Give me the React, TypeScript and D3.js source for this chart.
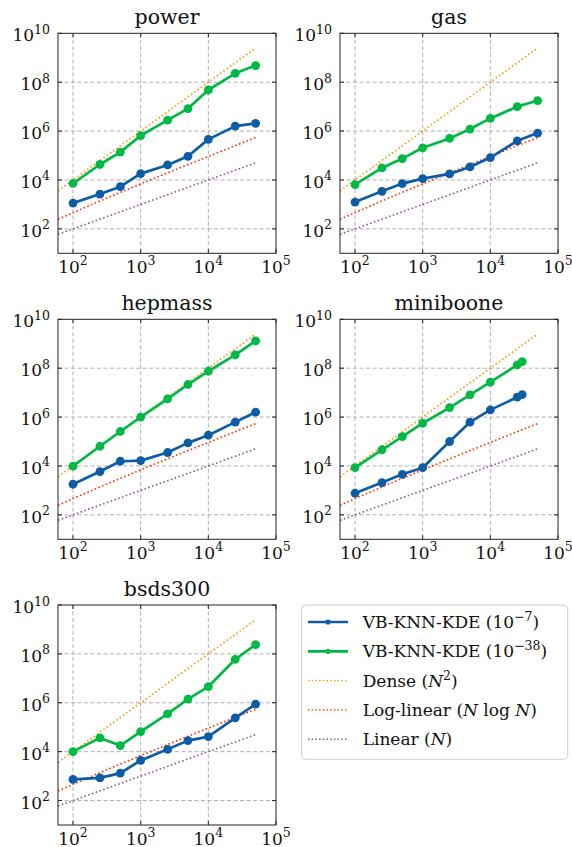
import React from "react";
import * as d3 from "d3";

// dataset sizes used for the timing runs
const sizes = [100, 250, 500, 1000, 2500, 5000, 10000, 25000, 50000];
const sizesMiniboone = [100, 250, 500, 1000, 2500, 5000, 10000, 25000, 29556];

// reference curve sample points
const refN = [60, 100, 250, 500, 1000, 2500, 5000, 10000, 25000, 50000];

const xTicks = [1e2, 1e3, 1e4, 1e5];
const yTicks = [1e2, 1e4, 1e6, 1e8, 1e10];

// VB-KNN-KDE (1e-7) = blue, VB-KNN-KDE (1e-38) = green
const powerBlue = [1130, 2660, 5300, 18200, 41300, 93000, 457000, 1.6e6, 2.07e6];
const powerGreen = [7300, 43000, 138000, 650000, 2.8e6, 8.3e6, 4.8e7, 2.3e8, 4.8e8];

const gasBlue = [1250, 3420, 7100, 11400, 17700, 34200, 82800, 4.0e5, 8.3e5];
const gasGreen = [6450, 31000, 75000, 2.07e5, 5.0e5, 1.21e6, 3.3e6, 1.0e7, 1.77e7];

const hepmassBlue = [1790, 5900, 15600, 16600, 35500, 88000, 1.81e5, 6.2e5, 1.58e6];
const hepmassGreen = [9800, 64000, 2.57e5, 1.0e6, 5.6e6, 2.15e7, 7.5e7, 3.5e8, 1.32e9];

const minibooneBlue = [766, 2090, 4570, 8500, 1.0e5, 6.2e5, 1.97e6, 6.5e6, 8.3e6];
const minibooneGreen = [8500, 46000, 1.6e5, 5.6e5, 2.45e6, 8.1e6, 2.67e7, 1.37e8, 1.87e8];

const bsdsBlue = [730, 850, 1330, 4400, 12500, 28300, 41300, 2.42e5, 8.8e5];
const bsdsGreen = [10000, 36500, 17700, 66000, 3.5e5, 1.41e6, 4.55e6, 6.0e7, 2.4e8];

const BLUE = "#0C5DA5";
const GREEN = "#00B945";
const ORANGE = "#FF9500";
const RED = "#FF2C00";
const PURPLE = "#845B97";
const FONT = "DejaVu Serif, Liberation Serif, serif";

const panels = [
  { title: "power", x: sizes, blue: powerBlue, green: powerGreen, left: 58, top: 33.3 },
  { title: "gas", x: sizes, blue: gasBlue, green: gasGreen, left: 340, top: 33.3 },
  { title: "hepmass", x: sizes, blue: hepmassBlue, green: hepmassGreen, left: 58, top: 319.3 },
  { title: "miniboone", x: sizesMiniboone, blue: minibooneBlue, green: minibooneGreen, left: 340, top: 319.3 },
  { title: "bsds300", x: sizes, blue: bsdsBlue, green: bsdsGreen, left: 58, top: 605 },
];

const W = 218;
const H = 220;

const refLines = [
  { color: ORANGE, f: (n: number) => n * n },
  { color: RED, f: (n: number) => n * Math.log(n) },
  { color: PURPLE, f: (n: number) => n },
];

const Pow10 = ({ v, ...rest }: any) => {
  const e = Math.round(Math.log10(v));
  return (
    <text style={{ fontFamily: FONT }} fontSize={17} fill="#111" {...rest}>
      <tspan>10</tspan>
      <tspan fontSize={12.5} dy={-7.5}>{e}</tspan>
    </text>
  );
};

const Panel = ({ p }: any) => {
  const x = d3.scaleLog().domain([60, 1e5]).range([0, W]);
  const y = d3.scaleLog().domain([10, 1e10]).range([H, 0]);
  const line = d3
    .line<[number, number]>()
    .x((d) => x(d[0]))
    .y((d) => y(d[1]));
  const clipId = `clip-${p.title}`;
  const series = [
    { vals: p.blue, color: BLUE },
    { vals: p.green, color: GREEN },
  ];
  return (
    <g transform={`translate(${p.left},${p.top})`}>
      <defs>
        <clipPath id={clipId}>
          <rect width={W} height={H} />
        </clipPath>
      </defs>
      {/* grid */}
      {xTicks.slice(0, 3).map((t) => (
        <line key={"gx" + t} x1={x(t)} x2={x(t)} y1={0} y2={H} stroke="#9a9a9a" strokeWidth={0.8} strokeDasharray="4,2.5" />
      ))}
      {yTicks.slice(0, 4).map((t) => (
        <line key={"gy" + t} x1={0} x2={W} y1={y(t)} y2={y(t)} stroke="#9a9a9a" strokeWidth={0.8} strokeDasharray="4,2.5" />
      ))}
      {/* reference curves */}
      <g clipPath={`url(#${clipId})`}>
        {refLines.map((r, i) => (
          <path
            key={i}
            d={line(refN.map((n) => [n, r.f(n)]) as [number, number][]) || ""}
            fill="none"
            stroke={r.color}
            strokeWidth={1.6}
            strokeDasharray="1.6,2.4"
          />
        ))}
        {series.map((s, i) => (
          <g key={i}>
            <path
              d={line(p.x.map((n: number, j: number) => [n, s.vals[j]])) || ""}
              fill="none"
              stroke={s.color}
              strokeWidth={2.7}
              strokeLinejoin="round"
            />
            {p.x.map((n: number, j: number) => (
              <circle key={j} cx={x(n)} cy={y(s.vals[j])} r={4.4} fill={s.color} />
            ))}
          </g>
        ))}
      </g>
      {/* spines */}
      <rect width={W} height={H} fill="none" stroke="#222" strokeWidth={1} />
      {/* inward ticks on all sides */}
      {xTicks.map((t) => (
        <g key={"tx" + t}>
          <line x1={x(t)} x2={x(t)} y1={H} y2={H - 4} stroke="#222" />
          <line x1={x(t)} x2={x(t)} y1={0} y2={4} stroke="#222" />
          <Pow10 v={t} x={x(t)} y={H + 19.5} textAnchor="middle" />
        </g>
      ))}
      {yTicks.map((t) => (
        <g key={"ty" + t}>
          <line x1={0} x2={4} y1={y(t)} y2={y(t)} stroke="#222" />
          <line x1={W} x2={W - 4} y1={y(t)} y2={y(t)} stroke="#222" />
          <Pow10 v={t} x={-8} y={y(t) + 8} textAnchor="end" />
        </g>
      ))}
      <text x={W / 2} y={-9.5} textAnchor="middle" style={{ fontFamily: FONT }} fontSize={20.5} fill="#111">
        {p.title}
      </text>
    </g>
  );
};

const legendItems = [
  { color: BLUE, dotted: false, label: "VB-KNN-KDE", kind: "exp", exp: "\u22127" },
  { color: GREEN, dotted: false, label: "VB-KNN-KDE", kind: "exp", exp: "\u221238" },
  { color: ORANGE, dotted: true, label: "Dense", kind: "dense" },
  { color: RED, dotted: true, label: "Log-linear", kind: "nlogn" },
  { color: PURPLE, dotted: true, label: "Linear", kind: "n" },
];

const LegendLabel = ({ item }: any) => {
  if (item.kind === "exp") {
    return (
      <>
        <tspan>{item.label} (10</tspan>
        <tspan fontSize={12.5} dy={-7}>{item.exp}</tspan>
        <tspan dy={7}>)</tspan>
      </>
    );
  }
  if (item.kind === "dense") {
    return (
      <>
        <tspan>{item.label} (</tspan>
        <tspan fontStyle="italic">N</tspan>
        <tspan fontSize={12.5} dy={-7}>2</tspan>
        <tspan dy={7}>)</tspan>
      </>
    );
  }
  if (item.kind === "nlogn") {
    return (
      <>
        <tspan>{item.label} (</tspan>
        <tspan fontStyle="italic">N</tspan>
        <tspan> log </tspan>
        <tspan fontStyle="italic">N</tspan>
        <tspan>)</tspan>
      </>
    );
  }
  return (
    <>
      <tspan>{item.label} (</tspan>
      <tspan fontStyle="italic">N</tspan>
      <tspan>)</tspan>
    </>
  );
};

const Legend = () => {
  const left = 301.7;
  const top = 605;
  return (
    <g>
      <rect x={left} y={top} width={266} height={154.3} rx={4} fill="#fff" stroke="#cccccc" strokeWidth={1} />
      {legendItems.map((it, i) => {
        const cy = 622 + i * 29.3;
        return (
          <g key={i}>
            <line
              x1={308}
              x2={348}
              y1={cy}
              y2={cy}
              stroke={it.color}
              strokeWidth={it.dotted ? 1.4 : 2.7}
              strokeDasharray={it.dotted ? "1.5,2.2" : undefined}
            />
            {!it.dotted && <circle cx={328} cy={cy} r={2.6} fill={it.color} />}
            <text x={362.7} y={cy + 6} style={{ fontFamily: FONT }} fontSize={17} fill="#111">
              <LegendLabel item={it} />
            </text>
          </g>
        );
      })}
    </g>
  );
};

export default function App() {
  return (
    <svg
      width={572}
      height={847}
      style={{ position: "absolute", left: 0, top: 0, background: "#fff" }}
    >
      {panels.map((p) => (
        <Panel key={p.title} p={p} />
      ))}
      <Legend />
    </svg>
  );
}
